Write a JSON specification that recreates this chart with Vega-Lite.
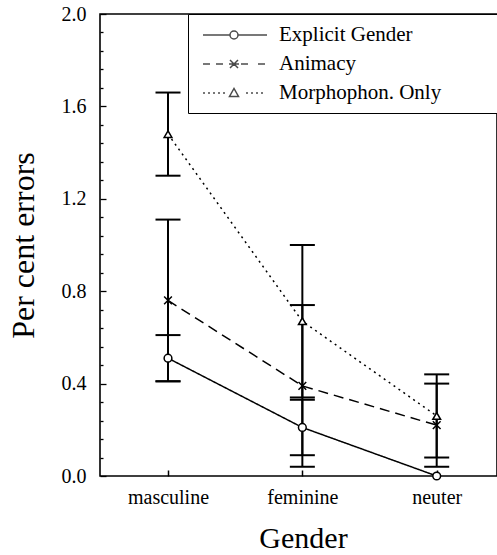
{
  "$schema": "https://vega.github.io/schema/vega-lite/v6.json",
  "width": 397,
  "height": 462,
  "autosize": {"type": "none"},
  "padding": {"left": 100, "top": 14, "right": 0, "bottom": 79},
  "background": "white",
  "config": {
    "view": {"stroke": "black", "strokeWidth": 1.6},
    "font": "Liberation Serif"
  },
  "data": {
    "values": [
      {"series": "Explicit Gender", "gender": "masculine", "value": 0.51, "lo": 0.41, "hi": 0.61},
      {"series": "Explicit Gender", "gender": "feminine", "value": 0.21, "lo": 0.09, "hi": 0.33},
      {"series": "Explicit Gender", "gender": "neuter", "value": 0.0, "lo": null, "hi": null},
      {"series": "Animacy", "gender": "masculine", "value": 0.76, "lo": 0.41, "hi": 1.11},
      {"series": "Animacy", "gender": "feminine", "value": 0.39, "lo": 0.04, "hi": 0.74},
      {"series": "Animacy", "gender": "neuter", "value": 0.22, "lo": 0.04, "hi": 0.40},
      {"series": "Morphophon. Only", "gender": "masculine", "value": 1.48, "lo": 1.30, "hi": 1.66},
      {"series": "Morphophon. Only", "gender": "feminine", "value": 0.67, "lo": 0.34, "hi": 1.00},
      {"series": "Morphophon. Only", "gender": "neuter", "value": 0.26, "lo": 0.08, "hi": 0.44}
    ]
  },
  "encoding": {
    "x": {
      "field": "gender",
      "type": "nominal",
      "sort": ["masculine", "feminine", "neuter"],
      "scale": {"type": "point", "domain": ["masculine", "feminine", "neuter"], "padding": 0.4775, "align": 0.53},
      "axis": {
        "title": "Gender",
        "titleFont": "Liberation Serif",
        "titleFontSize": 30,
        "titleFontWeight": "normal",
        "titleColor": "black",
        "titleBaseline": "alphabetic",
        "titleX": 203,
        "titleY": 71,
        "labelFont": "Liberation Serif",
        "labelFontSize": 20,
        "labelColor": "black",
        "labelAngle": 0,
        "labelBaseline": "alphabetic",
        "labelPadding": 33,
        "tickSize": -6,
        "tickColor": "black",
        "tickWidth": 1.5,
        "domain": false,
        "grid": false
      }
    },
    "y": {
      "field": "value",
      "type": "quantitative",
      "scale": {"domain": [0, 2], "nice": false, "zero": true},
      "axis": {
        "title": "Per cent errors",
        "titleFont": "Liberation Serif",
        "titleFontSize": 32,
        "titleFontWeight": "normal",
        "titleColor": "black",
        "titleAngle": -90,
        "titleAlign": "center",
        "titleBaseline": "alphabetic",
        "titleX": -67,
        "titleY": 231,
        "values": [0, 0.08, 0.16, 0.24, 0.32, 0.4, 0.48, 0.56, 0.64, 0.72, 0.8, 0.88, 0.96, 1.04, 1.12, 1.2, 1.28, 1.36, 1.44, 1.52, 1.6, 1.68, 1.76, 1.84, 1.92, 2.0],
        "labelExpr": "abs(datum.value*2.5 - round(datum.value*2.5)) < 0.01 ? format(datum.value, '.1f') : ''",
        "labelFont": "Liberation Serif",
        "labelFontSize": 20,
        "labelColor": "black",
        "labelPadding": 20,
        "tickSize": {"condition": {"test": "abs(datum.value*2.5 - round(datum.value*2.5)) < 0.01", "value": -6}, "value": -3},
        "tickColor": "black",
        "tickWidth": 1.3,
        "domain": false,
        "grid": false
      }
    }
  },
  "layer": [
    {
      "mark": {"type": "line", "color": "black", "strokeWidth": 1.5},
      "encoding": {
        "detail": {"field": "series", "type": "nominal"},
        "strokeDash": {
          "field": "series",
          "type": "nominal",
          "scale": {"domain": ["Explicit Gender", "Animacy", "Morphophon. Only"], "range": [[1, 0], [10, 6], [2, 4]]},
          "legend": null
        }
      }
    },
    {
      "mark": {"type": "rule", "color": "black", "strokeWidth": 2},
      "encoding": {"y": {"field": "lo", "type": "quantitative"}, "y2": {"field": "hi"}}
    },
    {
      "mark": {"type": "tick", "orient": "horizontal", "color": "black", "size": 25, "thickness": 2, "opacity": 1},
      "encoding": {"y": {"field": "lo", "type": "quantitative"}}
    },
    {
      "mark": {"type": "tick", "orient": "horizontal", "color": "black", "size": 25, "thickness": 2, "opacity": 1},
      "encoding": {"y": {"field": "hi", "type": "quantitative"}}
    },
    {
      "mark": {"type": "point", "fill": "white", "stroke": "black", "strokeWidth": 1.5, "opacity": 1, "filled": false, "size": 60},
      "encoding": {
        "shape": {
          "field": "series",
          "type": "nominal",
          "scale": {"domain": ["Explicit Gender", "Animacy", "Morphophon. Only"], "range": ["circle", "M-1,-1L1,1M-1,1L1,-1", "triangle-up"]},
          "legend": null
        }
      }
    },
    {
      "transform": [{"filter": "false"}],
      "mark": {"type": "point", "filled": false, "stroke": "black"},
      "encoding": {
        "x": {"field": "gender", "type": "nominal"},
        "y": {"field": "value", "type": "quantitative"},
        "shape": {
          "field": "series",
          "type": "nominal",
          "scale": {
            "domain": ["Explicit Gender", "Animacy", "Morphophon. Only"],
            "range": [
              "M-0.6,0H2.1M2.9,0H5.8M2.1,0A0.4,0.4 0 1,1 2.9,0A0.4,0.4 0 1,1 2.1,0",
              "M-0.6,0H0.1M0.7,0H1.4M2.0,0H3.0M3.2,0H3.9M4.9,0H5.6M2.1,-0.4L2.9,0.4M2.1,0.4L2.9,-0.4",
              "M-0.6,0h0.2M-0.1,0h0.2M0.4,0h0.2M0.9,0h0.2M1.4,0h0.2M3.7,0h0.2M4.2,0h0.2M4.7,0h0.2M5.2,0h0.2M2.05,0.35L2.95,0.35L2.5,-0.45Z"
            ]
          },
          "legend": {
            "title": null,
            "orient": "none",
            "legendX": 88,
            "legendY": 0,
            "padding": 10,
            "strokeColor": "black",
            "fillColor": "white",
            "symbolSize": 400,
            "symbolStrokeWidth": 1.5,
            "symbolStrokeColor": "black",
            "symbolFillColor": "white",
            "labelFont": "Liberation Serif",
            "labelFontSize": 21,
            "labelColor": "black",
            "labelOffset": 59,
            "labelLimit": 0,
            "rowPadding": 8,
            "labelExpr": "datum.label + '\u00a0\u00a0\u00a0\u00a0\u00a0\u00a0\u00a0\u00a0\u00a0\u00a0\u200b'",
            "encode": {
              "symbols": {"update": {"fill": {"value": "white"}, "stroke": {"value": "black"}, "opacity": {"value": 1}, "strokeWidth": {"value": 1.5}}}
            }
          }
        }
      }
    }
  ],
  "resolve": {"scale": {"shape": "independent"}, "legend": {"shape": "independent"}}
}
